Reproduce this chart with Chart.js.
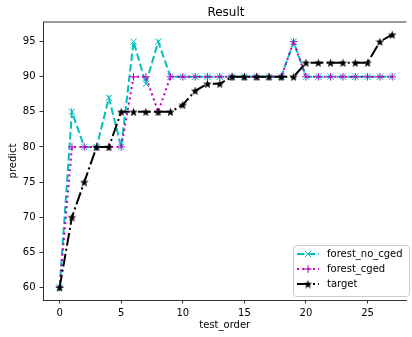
<!DOCTYPE html>
<html>
<head>
<meta charset="utf-8">
<script src="https://cdn.jsdelivr.net/npm/chart.js@4.4.0/dist/chart.umd.min.js"></script>
<style>
html, body { margin: 0; padding: 0; background: #fff; }
</style>
</head>
<body>
<canvas id="chart" width="412" height="337"></canvas>
<script>
const testOrder = [0, 1, 2, 3, 4, 5, 6, 7, 8, 9, 10, 11, 12, 13, 14, 15, 16, 17, 18, 19, 20, 21, 22, 23, 24, 25, 26, 27];
const forestNoCged = [60, 85, 80, 80, 87, 80, 95, 89, 95, 90, 90, 90, 90, 90, 90, 90, 90, 90, 90, 95, 90, 90, 90, 90, 90, 90, 90, 90];
const forestCged = [60, 80, 80, 80, 80, 80, 90, 90, 85, 90, 90, 90, 90, 90, 90, 90, 90, 90, 90, 95, 90, 90, 90, 90, 90, 90, 90, 90];
const target = [60, 70, 75, 80, 80, 85, 85, 85, 85, 85, 86, 88, 89, 89, 90, 90, 90, 90, 90, 90, 92, 92, 92, 92, 92, 92, 95, 96];
const xTicks = [0, 5, 10, 15, 20, 25];
const yTicks = [60, 65, 70, 75, 80, 85, 90, 95];

const FONT = 'DejaVu Sans';
const CYAN = '#00bfbf';
const MAGENTA = '#bf00bf';
const BLACK = '#000000';

Chart.defaults.font.family = FONT;

function points(values) {
    return values.map((v, i) => ({ x: testOrder[i], y: v }));
}

// filled five point star, used as marker for the target series
function starImage(size, color) {
    const c = document.createElement('canvas');
    c.width = size;
    c.height = size;
    const ctx = c.getContext('2d');
    const r = size / 2, ir = r * 0.42;
    ctx.beginPath();
    for (let i = 0; i < 10; i++) {
        const rad = i % 2 ? ir : r;
        const a = -Math.PI / 2 + i * Math.PI / 5;
        ctx.lineTo(r + rad * Math.cos(a), r + 0.5 + rad * Math.sin(a));
    }
    ctx.closePath();
    ctx.fillStyle = color;
    ctx.fill();
    return c;
}
const star = starImage(9, BLACK);

const series = [
    { label: 'forest_no_cged', values: forestNoCged, color: CYAN, dash: [7.4, 3.2], marker: 'crossRot', radius: 4.5, order: 3 },
    { label: 'forest_cged', values: forestCged, color: MAGENTA, dash: [2, 3.3], marker: 'cross', radius: 3.8, order: 2 },
    { label: 'target', values: target, color: BLACK, dash: [12.8, 3.2, 2, 3.2], marker: star, radius: 4.5, order: 1 }
];

function drawMarker(ctx, s, x, y) {
    ctx.save();
    ctx.setLineDash([]);
    ctx.strokeStyle = s.color;
    ctx.lineWidth = 1;
    if (s.marker === 'crossRot') {
        const d = s.radius * Math.SQRT1_2;
        ctx.beginPath();
        ctx.moveTo(x - d, y - d); ctx.lineTo(x + d, y + d);
        ctx.moveTo(x - d, y + d); ctx.lineTo(x + d, y - d);
        ctx.stroke();
    } else if (s.marker === 'cross') {
        ctx.beginPath();
        ctx.moveTo(x - s.radius, y); ctx.lineTo(x + s.radius, y);
        ctx.moveTo(x, y - s.radius); ctx.lineTo(x, y + s.radius);
        ctx.stroke();
    } else {
        ctx.drawImage(s.marker, x - s.marker.width / 2, y - s.marker.height / 2);
    }
    ctx.restore();
}

const framePlugin = {
    id: 'frame',
    afterDraw(chart) {
        const ctx = chart.ctx;
        const area = chart.chartArea;
        const xs = chart.scales.x;

        // top spine
        ctx.save();
        ctx.strokeStyle = BLACK;
        ctx.lineWidth = 0.8;
        ctx.beginPath();
        ctx.moveTo(area.left, area.top);
        ctx.lineTo(area.right, area.top);
        ctx.stroke();

        // title, centred over the whole axes
        ctx.fillStyle = BLACK;
        ctx.font = '12px "' + FONT + '"';
        ctx.textAlign = 'center';
        ctx.textBaseline = 'middle';
        ctx.fillText('Result', xs.getPixelForValue(13.5), 13);

        // legend, lower right
        const bx = 293, by = 245, bw = 116, bh = 51;
        ctx.beginPath();
        ctx.roundRect(bx + 0.5, by + 0.5, bw, bh, 3);
        ctx.fillStyle = 'rgba(255,255,255,0.8)';
        ctx.fill();
        ctx.strokeStyle = '#cccccc';
        ctx.lineWidth = 1;
        ctx.stroke();

        series.forEach((s, i) => {
            const y = 254 + i * 15;
            ctx.beginPath();
            ctx.strokeStyle = s.color;
            ctx.lineWidth = 2;
            ctx.setLineDash(s.dash);
            ctx.moveTo(297, y);
            ctx.lineTo(319, y);
            ctx.stroke();
            drawMarker(ctx, s, 308, y);
            ctx.fillStyle = BLACK;
            ctx.font = '10px "' + FONT + '"';
            ctx.textAlign = 'left';
            ctx.fillText(s.label, 327, y);
        });
        ctx.restore();
    }
};

new Chart(document.getElementById('chart'), {
    type: 'line',
    data: {
        datasets: series.map(s => ({
            label: s.label,
            data: points(s.values),
            borderColor: s.color,
            backgroundColor: s.color,
            borderWidth: 2,
            borderDash: s.dash,
            pointStyle: s.marker,
            pointRadius: s.radius,
            pointBorderWidth: 1,
            pointBorderColor: s.color,
            pointBackgroundColor: s.color,
            tension: 0,
            order: s.order
        }))
    },
    options: {
        responsive: false,
        animation: false,
        events: [],
        layout: { padding: { top: 22, left: 0, right: 0, bottom: 0 } },
        plugins: {
            legend: { display: false },
            title: { display: false },
            tooltip: { enabled: false }
        },
        scales: {
            x: {
                type: 'linear',
                min: -1.35,
                max: 28.16,
                afterBuildTicks: s => { s.ticks = xTicks.map(v => ({ value: v })); },
                afterFit: s => { s.height = 37; },
                ticks: { color: BLACK, font: { size: 10 }, padding: 3.5, maxRotation: 0 },
                grid: { drawOnChartArea: false, drawTicks: true, tickLength: 3.5, color: BLACK, lineWidth: 0.8 },
                border: { color: BLACK, width: 0.8 },
                title: { display: true, text: 'test_order', color: BLACK, font: { size: 10 }, padding: { top: 0, bottom: 6 } }
            },
            y: {
                min: 58.2,
                max: 97.8,
                afterBuildTicks: s => { s.ticks = yTicks.map(v => ({ value: v })); },
                afterFit: s => { s.width = 43; },
                ticks: { color: BLACK, font: { size: 10 }, padding: 4 },
                grid: { drawOnChartArea: false, drawTicks: true, tickLength: 3.5, color: BLACK, lineWidth: 0.8 },
                border: { color: BLACK, width: 0.8 },
                title: { display: true, text: 'predict', color: BLACK, font: { size: 10 }, padding: { top: 7, bottom: 0 } }
            }
        }
    },
    plugins: [framePlugin]
});
</script>
</body>
</html>
